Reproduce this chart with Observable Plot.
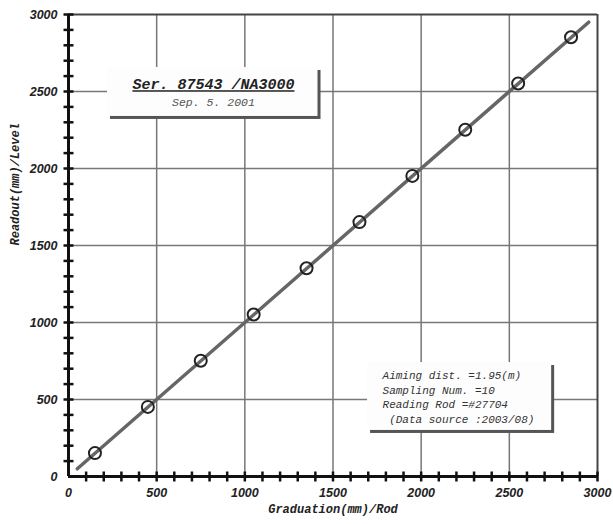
<!DOCTYPE html>
<html>
<head>
<meta charset="utf-8">
<script src="https://cdn.jsdelivr.net/npm/d3@7"></script>
<script src="https://cdn.jsdelivr.net/npm/@observablehq/plot@0.6"></script>
<style>
  html, body { margin: 0; padding: 0; background: #fff; }
  #chart { width: 613px; height: 524px; }
</style>
</head>
<body>
<div id="chart"></div>
<script>
// ---- data ----
const graduation = [150, 450, 750, 1050, 1350, 1650, 1950, 2250, 2550, 2850];
const readout    = [152, 452, 752, 1052, 1352, 1652, 1952, 2252, 2552, 2852];
const fitX = [50, 2950];
const fitY = [50, 2950];
const majorTicks = [0, 500, 1000, 1500, 2000, 2500, 3000];
const minorTicks = d3.range(100, 3001, 100);
const xTitle = "Graduation(mm)/Rod";
const yTitle = "Readout(mm)/Level";
const boxTitle = "Ser. 87543 /NA3000";
const boxDate = "Sep. 5. 2001";
const infoLines = ["Aiming dist. =1.95(m)", "Sampling Num. =10", "Reading Rod =#27704", " (Data source :2003/08)"];

const points = graduation.map((g, i) => ({g, r: readout[i]}));
const fit = fitX.map((x, i) => ({x, y: fitY[i]}));

const vline = {draw(ctx, size) { const r = Math.sqrt(size / Math.PI); ctx.moveTo(0, -r); ctx.lineTo(0, r); }};
const hline = {draw(ctx, size) { const r = Math.sqrt(size / Math.PI); ctx.moveTo(-r, 0); ctx.lineTo(r, 0); }};

const mono = "'Liberation Mono', 'DejaVu Sans Mono', monospace";
const tickFont = "'Liberation Sans', Arial, sans-serif";

const chart = Plot.plot({
  width: 613,
  height: 524,
  marginLeft: 68,
  marginRight: 16,
  marginTop: 14,
  marginBottom: 48,
  style: {background: "#fff"},
  x: {domain: [0, 3000], axis: null},
  y: {domain: [0, 3000], axis: null},
  marks: [
    Plot.gridX(majorTicks.filter(d => d > 0 && d < 3000), {stroke: "#777", strokeOpacity: 1, strokeWidth: 1.5}),
    Plot.gridY(majorTicks.filter(d => d > 0 && d < 3000), {stroke: "#777", strokeOpacity: 1, strokeWidth: 1.5}),
    Plot.ruleX([3000], {stroke: "#444", strokeWidth: 2}),
    Plot.ruleY([3000], {stroke: "#444", strokeWidth: 2}),
    // annotation box 1
    Plot.rect([0], {x1: 221, x2: 1415, y1: 2338, y2: 2656, fill: "#555", dx: 3, dy: 3}),
    Plot.rect([0], {x1: 221, x2: 1415, y1: 2338, y2: 2656, fill: "#fdfdfd"}),
    Plot.text([boxTitle], {x: 822, y: 2546, fontFamily: mono, fontSize: 15, fontWeight: "bold", fontStyle: "italic", fill: "#222"}),
    Plot.text([boxDate], {x: 822, y: 2429, fontFamily: mono, fontSize: 11.5, fontStyle: "italic", fill: "#555"}),
    // annotation box 2
    Plot.rect([0], {x1: 1696, x2: 2740, y1: 299, y2: 740, fill: "#555", dx: 3, dy: 3}),
    Plot.rect([0], {x1: 1696, x2: 2740, y1: 299, y2: 740, fill: "#fdfdfd"}),
    Plot.text([infoLines.join("\n")], {x: 1781, y: 705, textAnchor: "start", lineAnchor: "top", lineHeight: 1.36, fontFamily: mono, fontSize: 11, fontStyle: "italic", fill: "#333"}),
    // fit line and points
    Plot.line(fit, {x: "x", y: "y", stroke: "#666", strokeWidth: 3.5}),
    Plot.dot(points, {x: "g", y: "r", r: 6, stroke: "#222", strokeWidth: 2, fill: "none"}),
    // axes lines
    Plot.ruleX([0], {stroke: "#111", strokeWidth: 3}),
    Plot.ruleY([0], {stroke: "#111", strokeWidth: 3}),
    // minor tick marks crossing the axes
    Plot.dot(minorTicks, {x: d => d, y: () => 0, symbol: vline, r: 5, stroke: "#111", strokeWidth: 2.5}),
    Plot.dot(minorTicks, {x: () => 0, y: d => d, symbol: hline, r: 5, stroke: "#111", strokeWidth: 2.5}),
    // tick labels
    Plot.axisX({ticks: majorTicks, tickFormat: d => String(d), tickSize: 0, tickPadding: 12, fontFamily: tickFont, fontSize: 12.5, fontWeight: "bold", fontStyle: "italic", fill: "#222", label: null}),
    Plot.axisY({ticks: majorTicks, tickFormat: d => String(d), tickSize: 0, tickPadding: 11, fontFamily: tickFont, fontSize: 12.5, fontWeight: "bold", fontStyle: "italic", fill: "#222", label: null}),
    // axis titles
    Plot.text([xTitle], {frameAnchor: "bottom", dy: 36, fontFamily: mono, fontSize: 12, fontWeight: "bold", fontStyle: "italic", fill: "#222"}),
    Plot.text([yTitle], {frameAnchor: "left", dx: -53, rotate: -90, fontFamily: mono, fontSize: 12, fontWeight: "bold", fontStyle: "italic", fill: "#222"})
  ]
});

d3.select(chart).selectAll("text").filter(function() { return this.textContent === boxTitle; })
  .attr("text-decoration", "underline");

document.getElementById("chart").appendChild(chart);
</script>
</body>
</html>
